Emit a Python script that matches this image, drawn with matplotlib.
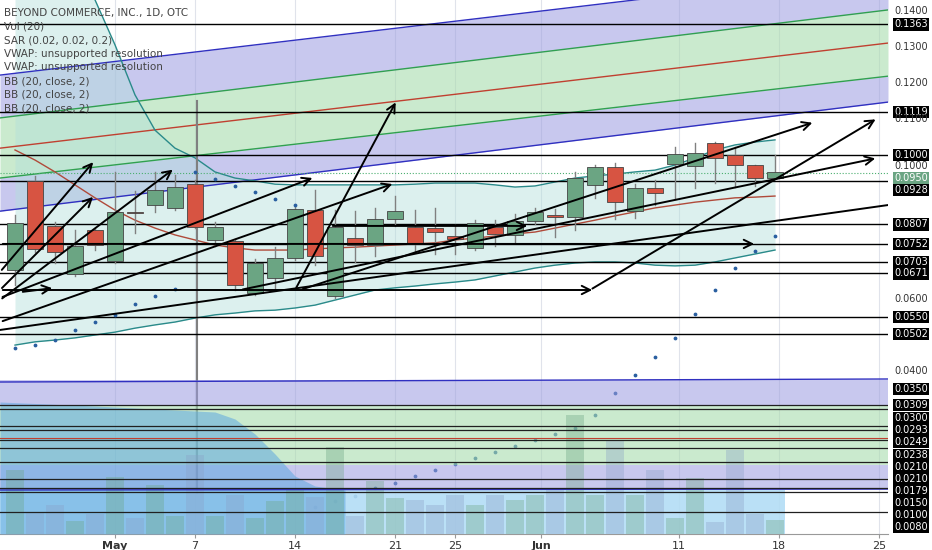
import numpy as np
import matplotlib.pyplot as plt
from matplotlib.transforms import blended_transform_factory

# candles (daily, index 0 = first bar)
opens  = [.0681,.0928,.0803,.0669,.0792,.0706,.0842,.0861,.0853,.0919,.0764,.0761,.0617,.0658,.0714,.0847,.0608,.0769,.0750,.0822,
          .0800,.0797,.0775,.0742,.0800,.0778,.0817,.0833,.0828,.0917,.0967,.0844,.0908,.0975,.0969,.1033,.1000,.0972,.0936]
closes = [.0811,.0739,.0731,.0747,.0750,.0842,.0839,.0903,.0911,.0800,.0800,.0639,.0700,.0714,.0850,.0719,.0800,.0750,.0822,.0844,
          .0753,.0786,.0767,.0811,.0781,.0817,.0842,.0828,.0936,.0967,.0869,.0908,.0894,.1003,.1006,.0992,.0972,.0936,.0953]
highs  = [.0833,.0942,.0814,.0792,.0797,.0953,.0900,.0953,.0944,.0931,.0814,.0767,.0711,.0744,.0861,.0903,.0847,.0844,.0853,.0886,
          .0847,.0853,.0806,.0819,.0819,.0836,.0853,.0850,.0953,.0972,.0978,.0919,.0931,.1022,.1033,.1036,.1022,.0972,.1000]
lows   = [.0639,.0731,.0700,.0664,.0736,.0700,.0783,.0842,.0847,.0797,.0747,.0625,.0611,.0625,.0708,.0694,.0603,.0703,.0719,.0803,
          .0731,.0725,.0725,.0736,.0747,.0756,.0808,.0772,.0792,.0881,.0822,.0825,.0861,.0878,.0908,.0922,.0911,.0914,.0936]
volume = [64,21,29,13,20,57,16,49,18,79,18,39,16,33,46,37,87,18,53,36,34,29,39,29,39,34,39,44,119,39,94,39,64,16,56,12,84,20,14]

bb_upper = [.1847,.1736,.1625,.1528,.1431,.1306,.1167,.1069,.1019,.0992,.0953,.0936,.0928,.0919,.0917,.0917,.0917,.0917,.0917,.0917,
            .0919,.0922,.0922,.0922,.0917,.0911,.0914,.0925,.0936,.0942,.0947,.0953,.0958,.0972,.0992,.1014,.1028,.1036,.1042]
bb_mid   = [.1014,.0986,.0953,.0917,.0881,.0847,.0819,.0797,.0778,.0764,.0750,.0742,.0736,.0736,.0736,.0739,.0742,.0744,.0747,.0750,
            .0753,.0756,.0764,.0769,.0775,.0781,.0786,.0797,.0808,.0819,.0831,.0842,.0853,.0861,.0869,.0875,.0881,.0883,.0886]
bb_lower = [.0472,.0481,.0486,.0492,.0500,.0508,.0519,.0528,.0536,.0547,.0556,.0561,.0567,.0569,.0575,.0583,.0597,.0611,.0625,.0631,
            .0636,.0642,.0647,.0653,.0664,.0675,.0686,.0694,.0700,.0703,.0703,.0700,.0694,.0692,.0694,.0703,.0714,.0725,.0736]
sar = [.0464,.0472,.0486,.0514,.0536,.0556,.0586,.0608,.0628,.0953,.0933,.0914,.0897,.0878,.0861,.0022,.0039,.0053,.0075,.0089,
       .0108,.0125,.0142,.0158,.0175,.0192,.0208,.0225,.0242,.0278,.0339,.0389,.0439,.0492,.0558,.0625,.0686,.0733,.0775]

# parallel channel: price at left edge / right edge
chan_x = [-0.75, 43.65]
chan_blue_top = [.1222, .1514]
chan_green_top = [.1103, .1403]
chan_red = [.1019, .1311]
chan_green_bot = [.0936, .1219]
chan_blue_bot = [.0844, .1147]

# drawn trend arrows: (x0, p0, x1, p1, head)
arrows = [(-0.75,.0675,4,.0986,1),(-0.75,.0625,4,.0889,1),(-0.75,.0597,8,.0964,1),(0.25,.0619,2,.0631,1),
          (-0.75,.0603,15,.0939,1),(-0.75,.0536,19,.0922,1),(14,.0625,19.1,.1153,1),(-0.75,.0625,29,.0625,1),
          (-0.75,.0753,37.1,.0753,1),(11.25,.0625,43.15,.0992,1),(14.25,.0625,40,.1092,1),(28.75,.0625,43.15,.1103,1),
          (-0.75,.0514,43.65,.0861,0),(15.75,.0803,25.75,.0803,1)]

hlines = [.1363,.1119,.1000,.0928,.0807,.0752,.0703,.0671,.0550,.0502]
price_labels = ['0.1400','0.1363','0.1300','0.1200','0.1119','0.1100','0.1000','0.1000','0.0950','0.0928',
                '0.0807','0.0752','0.0703','0.0671','0.0600','0.0550','0.0502','0.0400','0.0350']
price_levels = [.1400,.1363,.1300,.1200,.1119,.1100,.1000,.0969,.0937,.0903,.0807,.0752,.0703,.0671,.0600,.0550,.0502,.0400,.0350]
price_boxed  = [0,1,0,0,1,0,1,0,2,1,1,1,1,1,0,1,1,0,1]

# lower pane (compressed copy of the drawings), pane units 0..156
pane_labels = ['0.0309','0.0300','0.0293','0.0249','0.0238','0.0210','0.0210','0.0179','0.0150','0.0100','0.0080']
pane_label_pos = [129,116,104,92,79,67,55,43,31,19,7]
pane_lines = [129,125,108,104,94,86,72,55,46,42,22]

tick_pos = [5, 9, 14, 19, 22, 26.3, 33.2, 38.2, 43.2]
tick_labels = ['May', '7', '14', '21', '25', 'Jun', '11', '18', '25']

GREEN = '#6ba583'
RED = '#d75442'

fig = plt.figure(figsize=(9.32, 5.5), dpi=100)
ax = fig.add_axes([0, 16/550, 888/932, 534/550])
pane = fig.add_axes([0, 16/550, 888/932, 156/550])
pane.patch.set_alpha(0)
xlim = (-0.75, 43.65)
ax.set_xlim(xlim)
ax.set_ylim(-0.00528, 0.14306)
pane.set_xlim(xlim)
pane.set_ylim(0, 156)
pane.axis('off')

for t in tick_pos:
    ax.axvline(t, color='#e0e3eb', lw=0.8, zorder=0)

# channel fills
xs = np.array(chan_x)
ax.fill_between(xs, chan_green_top, chan_blue_top, color='#9c9ce0', alpha=0.55, lw=0)
ax.fill_between(xs, chan_green_bot, chan_green_top, color='#a8dcae', alpha=0.6, lw=0)
ax.fill_between(xs, chan_blue_bot, chan_green_bot, color='#9c9ce0', alpha=0.55, lw=0)
ax.plot(xs, chan_blue_top, color='#3030c0', lw=1)
ax.plot(xs, chan_green_top, color='#30a050', lw=1)
ax.plot(xs, chan_red, color='#c04030', lw=1)
ax.plot(xs, chan_green_bot, color='#30a050', lw=1)
ax.plot(xs, chan_blue_bot, color='#3030c0', lw=1)

# bollinger
idx = np.arange(len(opens))
ax.fill_between(idx, bb_lower, bb_upper, color='#b2dfdb', alpha=0.45, lw=0)
ax.plot(idx, bb_upper, color='#2a8a8a', lw=1)
ax.plot(idx, bb_lower, color='#2a8a8a', lw=1)
ax.plot(idx, bb_mid, color='#b04a3a', lw=1)

for h in hlines:
    ax.axhline(h, color='black', lw=1, zorder=3)
ax.axhline(.0950, color='#4caf70', lw=0.8, ls=':', zorder=3)
ax.plot([9.1, 9.1], [0.0060, 0.1150], color='#808080', lw=1.5, zorder=2)

# candles
for i in idx:
    c = GREEN if closes[i] >= opens[i] else RED
    ax.plot([i, i], [lows[i], highs[i]], color='#808080', lw=1, zorder=4)
    lo, hi = sorted([opens[i], closes[i]])
    ax.bar(i, max(hi - lo, 0.0003), bottom=lo, width=0.8, color=c, edgecolor='#444444', lw=0.6, zorder=5)

ax.scatter(idx, sar, s=3, color='#2a5fa0', zorder=6)

for x0, p0, x1, p1, head in arrows:
    if head:
        ax.annotate('', xy=(x1, p1), xytext=(x0, p0),
                    arrowprops=dict(arrowstyle='->', color='black', lw=1.4, mutation_scale=15), zorder=7)
    else:
        ax.plot([x0, x1], [p0, p1], color='black', lw=1.4, zorder=7)

# lower pane
pane.fill_between(xs, [129, 129], [154, 154], color='#9c9ce0', alpha=0.55, lw=0)
pane.fill_between(xs, [69, 69], [129, 129], color='#a8dcae', alpha=0.6, lw=0)
pane.fill_between(xs, [44, 44], [69, 69], color='#9c9ce0', alpha=0.55, lw=0)
pane.plot(xs, [152, 155], color='#3030c0', lw=1)
pane.plot(xs, [44, 45], color='#3030c0', lw=1)
pane.plot(xs, [96, 96], color='#c04030', lw=0.8)
pane.fill_between([-0.75, 38.5], [0, 0], [44, 44], color='#b3ddf5', alpha=0.9, lw=0)
bx = [-0.75, 4, 8, 10, 11, 12, 13, 14, 15, 16.5]
by = [132, 128, 124, 122, 115, 100, 80, 58, 48, 44]
pane.fill_between(bx, 0, by, color='#5fa8e0', alpha=0.55, lw=0)
for v in pane_lines:
    pane.axhline(v, color='#202020', lw=0.9)
vc = [GREEN if closes[i] >= opens[i] else '#8aa0c8' for i in idx]
pane.bar(idx, volume, width=0.9, color=vc, alpha=0.35, lw=0)

# right labels
tr = blended_transform_factory(ax.transAxes, ax.transData)
for lab, lev, bx_ in zip(price_labels, price_levels, price_boxed):
    if bx_ == 1:
        box = dict(boxstyle='square,pad=0.12', fc='black', ec='none')
        col = 'white'
    elif bx_ == 2:
        box = dict(boxstyle='square,pad=0.12', fc='#6ba583', ec='none')
        col = 'white'
    else:
        box = None
        col = '#333333'
    ax.text(1.007, lev, lab, transform=tr, fontsize=7, color=col, va='center', ha='left', bbox=box, clip_on=False)
ptr = blended_transform_factory(pane.transAxes, pane.transData)
for lab, pos in zip(pane_labels, pane_label_pos):
    pane.text(1.007, pos, lab, transform=ptr, fontsize=7, color='white', va='center', ha='left',
              bbox=dict(boxstyle='square,pad=0.12', fc='black', ec='none'), clip_on=False)

ax.set_xticks(tick_pos)
ax.set_xticklabels(tick_labels, fontsize=8, color='#333333')
for lbl in ax.get_xticklabels():
    if lbl.get_text() in ('May', 'Jun'):
        lbl.set_fontweight('bold')
ax.tick_params(axis='x', length=3, color='#999999', pad=2)
ax.set_yticks([])
for s in ['top', 'left', 'right']:
    ax.spines[s].set_visible(False)
ax.spines['bottom'].set_color('#999999')

legend = ['BEYOND COMMERCE, INC., 1D, OTC', 'Vol (20)', 'SAR (0.02, 0.02, 0.2)',
          'VWAP: unsupported resolution', 'VWAP: unsupported resolution',
          'BB (20, close, 2)', 'BB (20, close, 2)', 'BB (20, close, 2)']
for k, t in enumerate(legend):
    ax.text(0.004, 0.985 - k * 0.0255, t, transform=ax.transAxes, fontsize=7.5, color='#444444', va='top', zorder=9)

fig.savefig('out.png', dpi=100)
